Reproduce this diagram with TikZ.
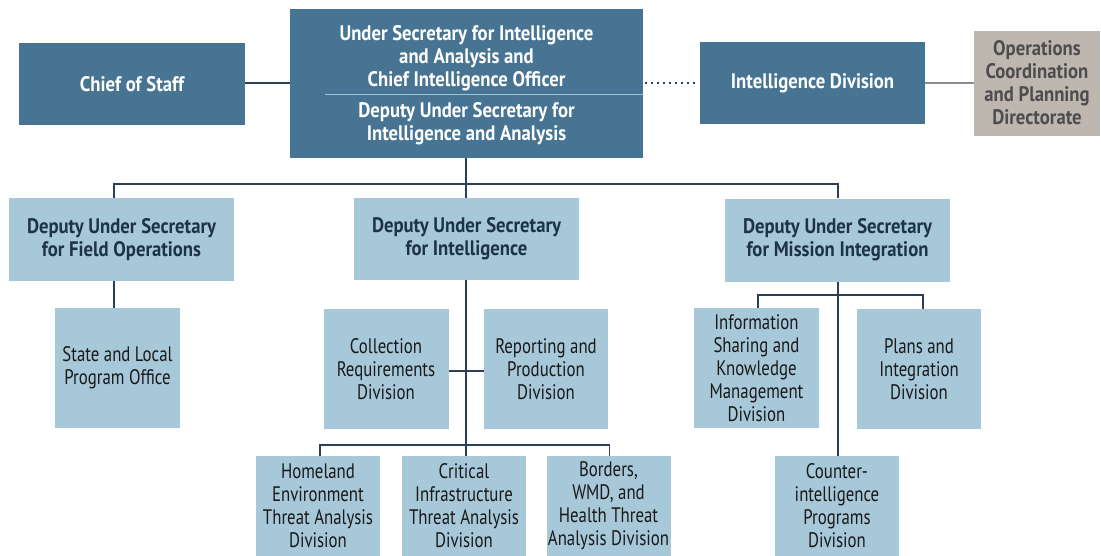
\documentclass[tikz,border=0pt]{standalone}
\usepackage{fontspec}
\setmainfont{PT Sans}
\newfontfamily\regf{PT Sans}[FakeStretch=0.80]
\newfontfamily\boldf{PT Sans}[FakeStretch=0.89]
\definecolor{darkbox}{HTML}{487493}
\definecolor{lightbox}{HTML}{A7C8D8}
\definecolor{opsbox}{HTML}{BEB7B0}
\definecolor{opstext}{HTML}{4D4D4D}
\definecolor{navytext}{HTML}{1E3348}
\definecolor{linecol}{HTML}{2B4055}
\definecolor{divline}{HTML}{9CC3D8}
\definecolor{greyline}{HTML}{8C8C8C}
\tikzset{
  box/.style={rectangle, inner sep=0pt, align=center, font=\fontsize{21}{23}\selectfont},
  dbox/.style={box, fill=darkbox, text=white, font=\fontsize{21}{23}\selectfont\boldf\bfseries},
  dusbox/.style={box, fill=lightbox, text=navytext, font=\fontsize{21}{23}\selectfont\boldf\bfseries},
  divbox/.style={box, fill=lightbox, text=black!90, font=\fontsize{21}{23}\selectfont\regf},
  obox/.style={box, fill=opsbox, text=opstext, font=\fontsize{21}{23}\selectfont\boldf\bfseries},
  conn/.style={draw=linecol, line width=1.6pt},
}
\begin{document}
\begin{tikzpicture}[x=1pt,y=-1pt]
\useasboundingbox (0,0) rectangle (1101,555);
% top row
\node[dbox, minimum width=226, minimum height=82] (cos) at (132,84) {Chief of Staff};
\node[dbox, minimum width=353, minimum height=149] (us) at (466.5,83.5) {};
\node[dbox, fill=none] (ust) at (466.5,58.5) {Under Secretary for Intelligence\\and Analysis and\\Chief Intelligence Officer};
\node[dbox, fill=none] (usb) at (466.5,124) {Deputy Under Secretary for\\Intelligence and Analysis};
\draw[draw=divline, line width=1.3pt] (us.west |- 0,94.5) ++(35.6,0) coordinate (dl) -- (us.east |- 0,94.5) ++(-32.3,0) coordinate (dr);
\node[dbox, minimum width=225, minimum height=82] (intel) at (812.5,83) {Intelligence Division};
\node[obox, minimum width=126, minimum height=105] (ops) at (1037,83) {Operations\\Coordination\\and Planning\\Directorate};
\draw[conn] (cos.east |- 0,83) -- (us.west |- 0,83);
\draw[draw=linecol, line width=2pt, dash pattern=on 2pt off 4pt] (us.east |- intel.west) ++(2,0) -- ++(52,0);
\draw[draw=greyline, line width=1.6pt] (intel.east) -- (ops.west |- intel.east);
% second row
\node[dusbox, minimum width=225, minimum height=83] (dfo) at (121.5,239.5) {Deputy Under Secretary\\for Field Operations};
\node[dusbox, minimum width=225, minimum height=82] (dint) at (466.5,239) {Deputy Under Secretary\\for Intelligence};
\node[dusbox, minimum width=225, minimum height=83] (dmi) at (837.5,240) {Deputy Under Secretary\\for Mission Integration};
\coordinate (busL) at (114,184);
\coordinate (busR) at (838,184);
\draw[conn] (us.south -| 466,0) -- (466,184);
\draw[conn] (dfo.north -| busL) -- (busL) -- (busR) -- (dmi.north -| busR);
\draw[conn] (466,184) -- (dint.north -| 466,0);
% third row
\node[divbox, minimum width=125, minimum height=120] (slpo) at (117.5,368) {State and Local\\Program Office};
\node[divbox, minimum width=125, minimum height=120] (crd) at (386,369) {Collection\\Requirements\\Division};
\node[divbox, minimum width=124, minimum height=120] (rpd) at (546,369) {Reporting and\\Production\\Division};
\node[divbox, minimum width=125, minimum height=120] (iskm) at (756.5,368) {Information\\Sharing and\\Knowledge\\Management\\Division};
\node[divbox, minimum width=124, minimum height=120] (pid) at (919,369) {Plans and\\Integration\\Division};
\draw[conn] (dfo.south -| busL) -- (slpo.north -| busL);
\draw[conn] (crd.east |- 0,371) -- (rpd.west |- 0,371);
% fourth row
\node[divbox, minimum width=124, minimum height=100] (heta) at (318,506) {Homeland\\Environment\\Threat Analysis\\Division};
\node[divbox, minimum width=124, minimum height=100] (cita) at (464,506) {Critical\\Infrastructure\\Threat Analysis\\Division};
\node[divbox, minimum width=124, minimum height=100] (bwmd) at (608.5,506) {Borders,\\WMD, and\\Health Threat\\Analysis Division};
\node[divbox, minimum width=124, minimum height=100] (cipd) at (837,506) {Counter-\\intelligence\\Programs\\Division};
\coordinate (b2L) at (320,445);
\coordinate (b2R) at (609.5,445);
\draw[conn] (dint.south -| 466,0) -- (466,445);
\draw[conn] (heta.north -| b2L) -- (b2L) -- (b2R) -- (bwmd.north -| b2R);
\draw[conn] (466,445) -- (cita.north -| 466,0);
\coordinate (b3L) at (758,295);
\coordinate (b3R) at (923,295);
\draw[conn] (dmi.south -| 838,0) -- (cipd.north -| 838,0);
\draw[conn] (iskm.north -| b3L) -- (b3L) -- (b3R) -- (pid.north -| b3R);
\end{tikzpicture}
\end{document}
